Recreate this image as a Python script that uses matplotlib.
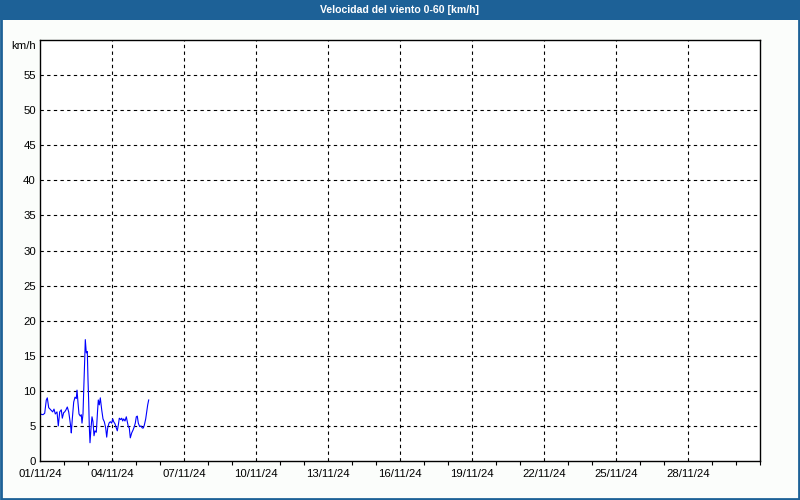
import matplotlib
matplotlib.use('Agg')
import matplotlib.pyplot as plt
import matplotlib.dates as mdates
from matplotlib.patches import Rectangle
from datetime import datetime, timedelta

# wind speed samples: hours after 01/11/24 00:00 and km/h
hours = [0, 3, 4.7, 6.3, 7.3, 8.7, 10.7, 12.7, 14, 15.3, 17, 18.3, 19.7, 21.3, 22.3, 23.7,
         24.7, 26, 27.3, 28.7, 29.7, 30.7, 31.3, 32.3, 33.7, 35, 36.3, 37, 38, 39, 40.3,
         41.3, 42, 43, 43.7, 44.7, 45.3, 46.3, 47.3, 48, 48.7, 49.3, 50, 51, 52, 53, 54,
         55, 56.3, 57.5, 58.3, 59.3, 60.3, 61.7, 63, 64.3, 65.7, 66.7, 67.7, 69, 70.3,
         71.7, 72.7, 73.7, 75, 76.3, 77.3, 78.3, 79.3, 80.7, 81.7, 82.7, 83.7, 85, 86.3,
         87.3, 88.3, 89.3, 90.3, 91.7, 93, 94.3, 95.3, 96.3, 97.3, 98.3, 99.7, 101,
         102.3, 103.3, 104.3, 105.7, 106.7, 107.7, 108.7]
speed = [6.7, 6.6, 6.8, 8.7, 9.0, 7.6, 7.3, 7.0, 7.4, 6.7, 7.0, 5.0, 7.0, 7.3, 6.1, 6.9,
         7.0, 7.3, 7.7, 7.0, 6.0, 4.9, 4.0, 6.0, 8.4, 9.1, 8.9, 10.1, 8.3, 6.7, 6.4,
         6.6, 5.4, 6.7, 10.0, 14.4, 17.3, 15.4, 15.6, 11.6, 8.4, 4.9, 2.6, 4.7, 6.3, 5.6, 3.6,
         4.3, 4.1, 7.0, 8.7, 8.0, 9.0, 7.3, 6.0, 5.6, 4.7, 3.4, 4.7, 5.4, 5.6,
         5.4, 6.0, 5.6, 5.3, 4.7, 4.3, 5.1, 6.1, 5.9, 6.1, 5.7, 6.0, 5.7, 6.3,
         5.6, 4.9, 4.7, 3.3, 4.0, 4.4, 4.9, 5.4, 6.3, 6.4, 5.4, 4.9, 5.0,
         4.7, 4.7, 5.1, 6.0, 7.0, 8.0, 8.7]
y_ticks = [0, 5, 10, 15, 20, 25, 30, 35, 40, 45, 50, 55]
tick_days = [1, 4, 7, 10, 13, 16, 19, 22, 25, 28]

start = datetime(2024, 11, 1)
end = datetime(2024, 12, 1)
times = [start + timedelta(hours=h) for h in hours]

blue = '#1d6197'
fig = plt.figure(figsize=(8, 5), dpi=100, facecolor='#fbfdfb')

# title bar and frame
fig.patches.append(Rectangle((0, 1 - 20 / 500), 1, 20 / 500, transform=fig.transFigure,
                             facecolor=blue, edgecolor='none', zorder=0))
fig.patches.append(Rectangle((0.0015, 0.002), 0.997, 0.996, transform=fig.transFigure,
                             facecolor='none', edgecolor=blue, linewidth=2, zorder=1))
fig.text(0.5, 1 - 10 / 500, 'Velocidad del viento 0-60 [km/h]', ha='center', va='center',
         color='white', fontsize=7.6, fontweight='bold', family='Liberation Sans')

ax = fig.add_axes([40 / 800, 39 / 500, 720 / 800, 421 / 500])
ax.set_facecolor('white')
ax.plot(times, speed, color='#0000ff', linewidth=0.8)

ax.set_xlim(start, end)
ax.set_ylim(0, 60)
ax.set_yticks(y_ticks)
ax.set_yticklabels([str(v) for v in y_ticks])
ax.set_xticks([datetime(2024, 11, d) for d in tick_days])
ax.xaxis.set_major_formatter(mdates.DateFormatter('%d/%m/%y'))
ax.xaxis.set_minor_locator(mdates.DayLocator())

for lab in ax.get_xticklabels() + ax.get_yticklabels():
    lab.set_family('Liberation Sans')
    lab.set_fontsize(8.2)
ax.tick_params(axis='both', which='major', length=0)
ax.tick_params(axis='x', which='major', pad=6)
ax.tick_params(axis='y', which='major', pad=3)
ax.tick_params(axis='x', which='minor', length=3, direction='out', width=0.8)

for y in y_ticks[1:]:
    ax.axhline(y, color='black', linewidth=0.8, linestyle=(0, (3, 3)), zorder=0)
for d in tick_days[1:]:
    ax.axvline(datetime(2024, 11, d), color='black', linewidth=0.8, linestyle=(0, (3, 3)), zorder=0)

for s in ax.spines.values():
    s.set_linewidth(1)

ax.text(-4 / 720, 1 - 6 / 421, 'km/h', transform=ax.transAxes, ha='right', va='center',
        fontsize=8.2, family='Liberation Sans')

fig.savefig('out.png', dpi=100, facecolor=fig.get_facecolor())
